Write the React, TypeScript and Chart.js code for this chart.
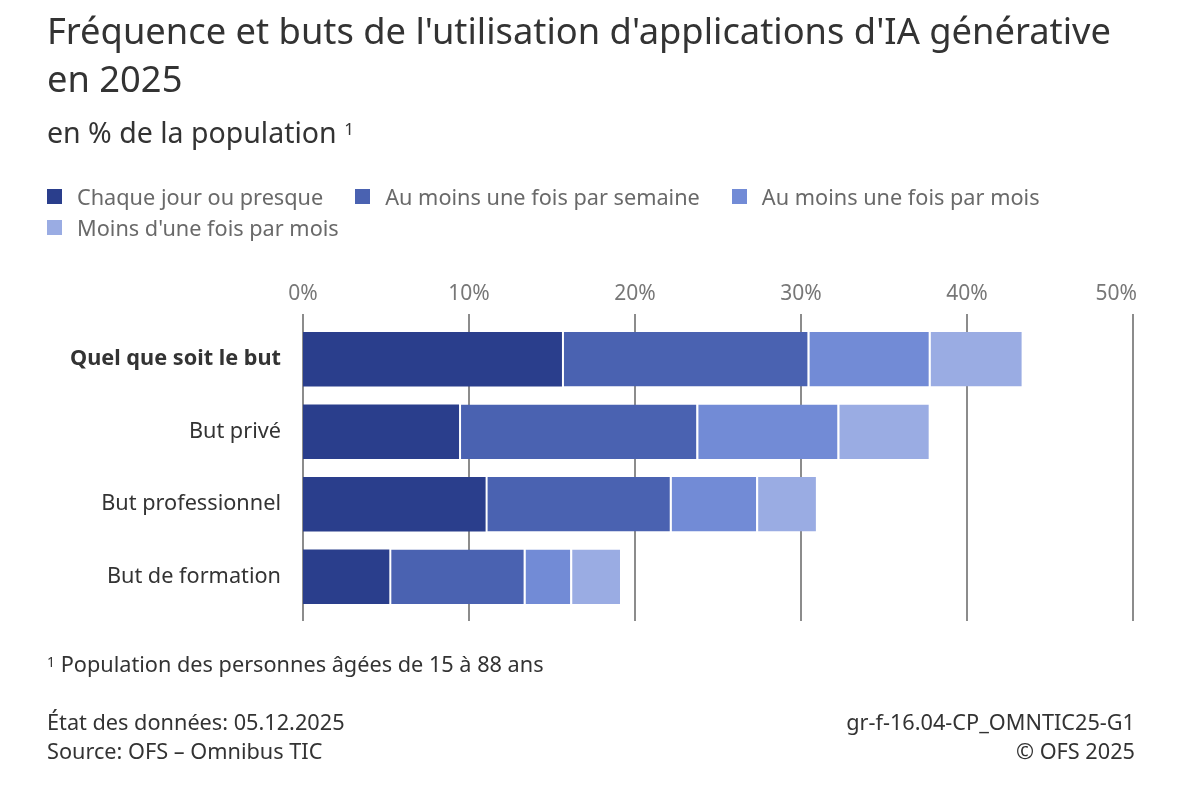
import React, { useEffect, useRef } from "react";
import { Chart, registerables } from "chart.js";

Chart.register(...registerables);

// Purposes of use (y axis)
const categories = ["Quel que soit le but", "But privé", "But professionnel", "But de formation"];

// Frequency classes (stacked series), in % of the population
const seriesNames = [
  "Chaque jour ou presque",
  "Au moins une fois par semaine",
  "Au moins une fois par mois",
  "Moins d'une fois par mois",
];
const dailyValues = [15.6, 9.4, 11.0, 5.2];
const weeklyValues = [14.8, 14.3, 11.1, 8.1];
const monthlyValues = [7.3, 8.5, 5.2, 2.8];
const lessValues = [5.6, 5.5, 3.6, 3.0];

const seriesColors = ["#2a3e8c", "#4a62b1", "#728bd6", "#9aace3"];

// Axis ticks
const xTicks = [0, 10, 20, 30, 40, 50];
const tickSuffix = "%";

const FONT = "'Noto Sans', 'Open Sans', sans-serif";

// Place a single text line so that its baseline lands at `baseline`
function lineStyle(baseline: number, size: number): React.CSSProperties {
  return {
    position: "absolute",
    top: baseline - 1.069 * size,
    fontSize: size,
    lineHeight: `${1.362 * size}px`,
    whiteSpace: "nowrap",
    margin: 0,
  };
}

// Vertical grid lines reaching a little past the bars, plus the value labels above them
const valueAxisDecor = {
  id: "valueAxisDecor",
  beforeDatasetsDraw(chart: any) {
    const { ctx, chartArea } = chart;
    const xs = chart.scales.x;
    ctx.save();
    ctx.strokeStyle = "#8c8c8c";
    ctx.lineWidth = 2;
    xs.ticks.forEach((t: any) => {
      const x = xs.getPixelForValue(t.value);
      ctx.beginPath();
      ctx.moveTo(x, chartArea.top - 9);
      ctx.lineTo(x, chartArea.bottom + 8);
      ctx.stroke();
    });
    ctx.restore();
  },
  afterDraw(chart: any) {
    const { ctx, chartArea } = chart;
    const xs = chart.scales.x;
    ctx.save();
    ctx.fillStyle = "#777777";
    ctx.font = `21px ${FONT}`;
    ctx.textBaseline = "middle";
    const n = xs.ticks.length;
    xs.ticks.forEach((t: any, i: number) => {
      const x = xs.getPixelForValue(t.value);
      const label = `${t.value}${tickSuffix}`;
      if (i === n - 1) {
        ctx.textAlign = "right";
        ctx.fillText(label, x + 4, chartArea.top - 29);
      } else {
        ctx.textAlign = "center";
        ctx.fillText(label, x, chartArea.top - 29);
      }
    });
    ctx.restore();
  },
};

export default function App() {
  const canvasRef = useRef<HTMLCanvasElement | null>(null);

  useEffect(() => {
    if (!canvasRef.current) return;
    const seriesValues = [dailyValues, weeklyValues, monthlyValues, lessValues];
    const chart = new Chart(canvasRef.current, {
      type: "bar",
      data: {
        labels: categories,
        datasets: seriesNames.map((name, i) => ({
          label: name,
          data: seriesValues[i],
          backgroundColor: seriesColors[i],
          borderColor: "#ffffff",
          borderWidth: { left: i === 0 ? 0 : 2, right: 0, top: 0, bottom: 0 },
          borderSkipped: false,
          barPercentage: 0.75,
          categoryPercentage: 1,
        })),
      },
      options: {
        indexAxis: "y",
        animation: false,
        responsive: false,
        maintainAspectRatio: false,
        layout: { padding: { left: 0, right: 67, top: 0, bottom: 175 } },
        plugins: {
          legend: { display: false },
          tooltip: { enabled: false },
        },
        scales: {
          x: {
            type: "linear",
            position: "top",
            stacked: true,
            min: xTicks[0],
            max: xTicks[xTicks.length - 1],
            afterBuildTicks: (scale: any) => {
              scale.ticks = xTicks.map((v) => ({ value: v }));
            },
            ticks: { display: false },
            grid: { display: false, drawTicks: false },
            border: { display: false },
            afterFit: (scale: any) => {
              scale.height = 323;
            },
          },
          y: {
            type: "category",
            stacked: true,
            ticks: {
              color: "#333333",
              font: (ctx: any) => ({
                family: FONT,
                size: 21.7,
                weight: ctx.index === 0 ? "bold" : "normal",
              }),
              padding: 22,
            },
            grid: { display: false, drawTicks: false },
            border: { display: false },
            afterFit: (scale: any) => {
              scale.width = 303;
            },
          },
        },
      },
      plugins: [valueAxisDecor],
    });
    return () => chart.destroy();
  }, []);

  return (
    <div
      style={{
        position: "absolute",
        top: 0,
        left: 0,
        width: 1200,
        height: 788,
        overflow: "hidden",
        background: "#ffffff",
        fontFamily: FONT,
        color: "#333333",
      }}
    >
      <canvas
        ref={canvasRef}
        width={1200}
        height={788}
        style={{ position: "absolute", top: 0, left: 0, width: 1200, height: 788 }}
      />
      <div style={{ ...lineStyle(45, 36.3), left: 47 }}>
        Fréquence et buts de l'utilisation d'applications d'IA générative
      </div>
      <div style={{ ...lineStyle(92.5, 36.3), left: 47 }}>en 2025</div>
      <div style={{ ...lineStyle(143, 28.5), left: 47 }}>
        en % de la population{" "}
        <sup style={{ fontSize: 17, verticalAlign: "top", position: "relative", top: -3 }}>1</sup>
      </div>

      <div
        style={{
          position: "absolute",
          left: 47,
          top: 181,
          width: 1095,
          display: "flex",
          flexWrap: "wrap",
          color: "#696969",
          fontSize: 21.7,
        }}
      >
        {seriesNames.map((name, i) => (
          <div
            key={name}
            style={{ display: "flex", alignItems: "center", marginRight: 32, height: 31 }}
          >
            <span
              style={{
                display: "inline-block",
                width: 15,
                height: 15,
                background: seriesColors[i],
                marginRight: 15,
              }}
            />
            <span style={{ whiteSpace: "nowrap" }}>{name}</span>
          </div>
        ))}
      </div>

      <div style={{ ...lineStyle(672, 21.7), left: 47 }}>
        <sup style={{ fontSize: 14, verticalAlign: "top", position: "relative", top: -2 }}>1</sup> Population des personnes âgées de 15 à 88 ans
      </div>
      <div style={{ ...lineStyle(730, 21.7), left: 47 }}>État des données: 05.12.2025</div>
      <div style={{ ...lineStyle(759, 21.7), left: 47 }}>Source: OFS – Omnibus TIC</div>
      <div style={{ ...lineStyle(730, 21.7), right: 65, textAlign: "right" }}>gr-f-16.04-CP_OMNTIC25-G1</div>
      <div style={{ ...lineStyle(759, 21.7), right: 65, textAlign: "right" }}>© OFS 2025</div>
    </div>
  );
}
